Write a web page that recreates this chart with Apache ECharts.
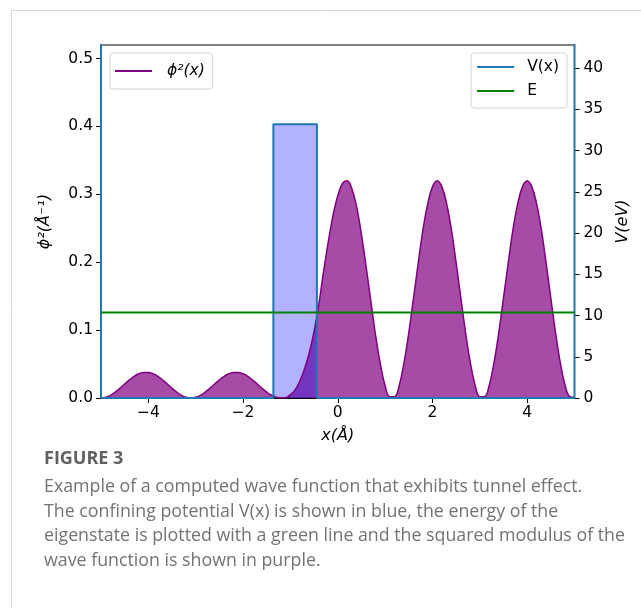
<!DOCTYPE html>
<html><head><meta charset="utf-8">
<script src="https://cdn.jsdelivr.net/npm/echarts@6/dist/echarts.min.js"></script>
<style>html,body{margin:0;padding:0;background:#fff}#c{width:641px;height:608px}</style>
</head><body><div id="c"></div>
<script>
// squared modulus of the wave function
const psiX = [-5.0,-4.9,-4.8,-4.7,-4.6,-4.5,-4.4,-4.3,-4.2,-4.1,-4.0,-3.9,-3.8,-3.7,-3.6,-3.5,-3.4,-3.3,-3.2,-3.1,
  -3.0,-2.9,-2.8,-2.7,-2.6,-2.5,-2.4,-2.3,-2.2,-2.1,-2.0,-1.9,-1.8,-1.7,-1.6,-1.5,-1.4,-1.3,-1.2,-1.1,
  -1.0,-0.9,-0.8,-0.7,-0.6,-0.5,-0.4,-0.3,-0.2,-0.1,0.0,0.1,0.2,0.3,0.4,0.5,0.6,0.7,0.8,0.9,
  1.0,1.1,1.2,1.3,1.4,1.5,1.6,1.7,1.8,1.9,2.0,2.1,2.2,2.3,2.4,2.5,2.6,2.7,2.8,2.9,
  3.0,3.1,3.2,3.3,3.4,3.5,3.6,3.7,3.8,3.9,4.0,4.1,4.2,4.3,4.4,4.5,4.6,4.7,4.8,4.9,5.0];
const psiY = [0,0.0010,0.0040,0.0086,0.0143,0.0206,0.0266,0.0319,0.0357,0.0377,0.0377,0.0357,0.0319,0.0266,0.0206,0.0143,0.0086,0.0040,0.0010,0,
  0.0010,0.0040,0.0086,0.0143,0.0206,0.0266,0.0319,0.0357,0.0377,0.0377,0.0357,0.0319,0.0266,0.0206,0.0143,0.0086,0.0040,0.0012,0.0002,0.0005,
  0.0050,0.0120,0.0250,0.0430,0.0670,0.0980,0.1380,0.1860,0.2300,0.2690,0.2980,0.3160,0.3200,0.3080,0.2810,0.2410,0.1930,0.1420,0.0920,0.0500,
  0.0180,0.0020,0.0020,0.0190,0.0520,0.0960,0.1470,0.1990,0.2480,0.2860,0.3110,0.3200,0.3110,0.2860,0.2480,0.1990,0.1470,0.0960,0.0520,0.0190,
  0.0020,0.0020,0.0190,0.0520,0.0960,0.1470,0.1990,0.2480,0.2860,0.3110,0.3200,0.3110,0.2860,0.2480,0.1990,0.1470,0.0960,0.0520,0.0190,0.0020,0.0010];
// confining potential V(x) in eV (walls at the box edges)
const potX = [-5, -5, -1.36, -1.36, -0.44, -0.44, 5, 5];
const potY = [45, 0, 0, 33.2, 33.2, 0, 0, 45];
// eigenstate energy in eV
const energyX = [-5, 5];
const energyY = [10.37, 10.37];
const xTicks = [-4, -2, 0, 2, 4];
const leftTicks = [0, 0.1, 0.2, 0.3, 0.4, 0.5];
const rightTicks = [0, 5, 10, 15, 20, 25, 30, 35, 40];
const captionTitle = 'FIGURE 3';
const captionLines = [
  'Example of a computed wave function that exhibits tunnel effect.',
  'The confining potential V(x) is shown in blue, the energy of the',
  'eigenstate is plotted with a green line and the squared modulus of the',
  'wave function is shown in purple.'
];

const zip = (a, b) => a.map((v, i) => [v, b[i]]);
const minus = v => String(v).replace('-', '\u2212');
const F = 'DejaVu Sans';
const tickFont = { color: '#000', fontSize: 15.5, fontFamily: F };

const chart = echarts.init(document.getElementById('c'), null, { renderer: 'canvas' });
const graphics = [
  { type: 'polyline', shape: { points: [[11.5, 608], [11.5, 10.5], [641, 10.5]] }, style: { stroke: '#d8d8d8', lineWidth: 1, fill: null }, silent: true },
  { type: 'text', x: 44, y: 459, style: { text: captionTitle, font: 'bold 18px "Open Sans"', fill: '#5f6062', verticalAlign: 'middle' } }
];
captionLines.forEach((t, i) => graphics.push({
  type: 'text', x: 44, y: 487 + i * 24.5,
  style: { text: t, font: '17.8px "Open Sans"', fill: '#727376', verticalAlign: 'middle' }
}));

chart.setOption({
  animation: false,
  backgroundColor: '#fff',
  grid: { left: 101, right: 66.5, top: 45, bottom: 210, show: true, borderColor: '#000', borderWidth: 1, backgroundColor: 'transparent' },
  xAxis: {
    type: 'value', min: -5, max: 5,
    axisLine: { show: true, onZero: false, lineStyle: { color: '#000', width: 1 } },
    axisTick: { show: true, customValues: xTicks, length: 5, lineStyle: { color: '#000' } },
    axisLabel: { customValues: xTicks, formatter: minus, margin: 7, ...tickFont },
    splitLine: { show: false },
    name: 'x(Å)', nameLocation: 'middle', nameGap: 30,
    nameTextStyle: { fontStyle: 'italic', fontSize: 16, fontFamily: F, color: '#000' }
  },
  yAxis: [
    {
      type: 'value', position: 'left', min: 0, max: 0.52,
      axisLine: { show: true, onZero: false, lineStyle: { color: '#000', width: 1 } },
      axisTick: { show: true, customValues: leftTicks, length: 5, lineStyle: { color: '#000' } },
      axisLabel: { customValues: leftTicks, formatter: v => v.toFixed(1), margin: 8, ...tickFont },
      splitLine: { show: false },
      name: 'ϕ²(Å⁻¹)', nameLocation: 'middle', nameRotate: 90, nameGap: 48,
      nameTextStyle: { fontStyle: 'italic', fontSize: 16, fontFamily: F, color: '#000' }
    },
    {
      type: 'value', position: 'right', min: 0, max: 42.8,
      axisLine: { show: true, onZero: false, lineStyle: { color: '#000', width: 1 } },
      axisTick: { show: true, customValues: rightTicks, length: 5, lineStyle: { color: '#000' } },
      axisLabel: { customValues: rightTicks, formatter: v => String(v), margin: 9, ...tickFont },
      splitLine: { show: false },
      name: 'V(eV)', nameLocation: 'middle', nameRotate: 90, nameGap: 40,
      nameTextStyle: { fontStyle: 'italic', fontSize: 16, fontFamily: F, color: '#000' }
    }
  ],
  legend: [
    {
      data: ['ϕ²(x)'], left: 110, top: 53, orient: 'vertical', icon: 'rect', itemWidth: 37, itemHeight: 2,
      backgroundColor: 'rgba(255,255,255,0.85)', borderColor: '#d4d4d4', borderWidth: 1, borderRadius: 3,
      padding: [10, 8, 10, 5],
      textStyle: { fontFamily: F, fontSize: 15.5, color: '#000', fontStyle: 'italic', padding: [0, 0, 0, 10] }
    },
    {
      data: ['V(x)', 'E'], right: 74, top: 53, orient: 'vertical', icon: 'rect', itemWidth: 37, itemHeight: 2, itemGap: 8,
      backgroundColor: 'rgba(255,255,255,0.85)', borderColor: '#d4d4d4', borderWidth: 1, borderRadius: 3,
      padding: [6, 8, 9, 6],
      textStyle: { fontFamily: F, fontSize: 15.5, color: '#000', padding: [0, 0, 0, 8] }
    }
  ],
  graphic: graphics,
  series: [
    {
      name: 'ϕ²(x)', type: 'line', yAxisIndex: 0, data: zip(psiX, psiY), smooth: 0.4, showSymbol: false,
      lineStyle: { color: '#800080', width: 1.5 }, itemStyle: { color: '#800080' },
      areaStyle: { color: '#800080', opacity: 0.7 }
    },
    {
      name: 'V(x)', type: 'line', yAxisIndex: 1, data: zip(potX, potY), smooth: false, showSymbol: false,
      lineStyle: { color: '#1f77b4', width: 2 }, itemStyle: { color: '#1f77b4' },
      areaStyle: { color: '#0000ff', opacity: 0.3 }
    },
    {
      name: 'E', type: 'line', yAxisIndex: 1, data: zip(energyX, energyY), showSymbol: false,
      lineStyle: { color: '#008000', width: 2 }, itemStyle: { color: '#008000' }
    }
  ]
});
</script></body></html>
